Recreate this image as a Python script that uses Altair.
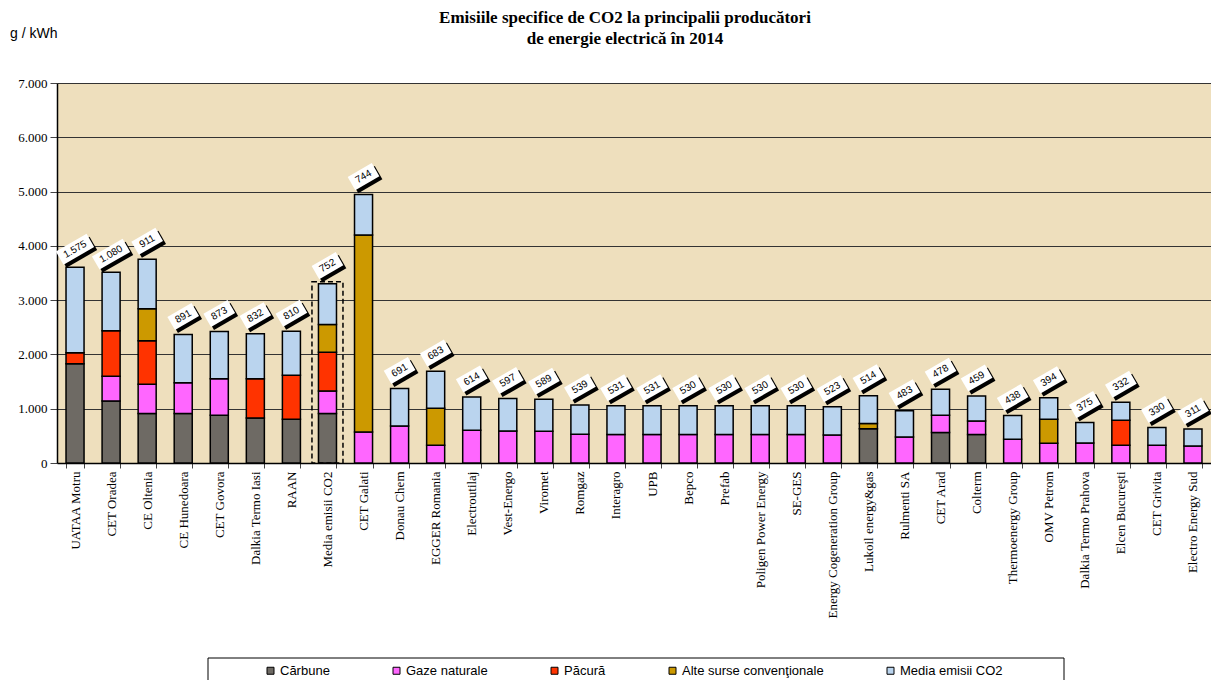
import altair as alt
import pandas as pd

categories = [
    "UATAA Motru", "CET Oradea", "CE Oltenia", "CE Hunedoara", "CET Govora",
    "Dalkia Termo Iasi", "RAAN", "Media emisii CO2", "CET Galati", "Donau Chem",
    "EGGER Romania", "Electroutilaj", "Vest-Energo", "Viromet", "Romgaz",
    "Interagro", "UPB", "Bepco", "Prefab", "Poligen Power Energy", "SE-GES",
    "Energy Cogeneration Group", "Lukoil energy&gas", "Rulmenti SA", "CET Arad",
    "Colterm", "Thermoenergy Group", "OMV Petrom", "Dalkia Termo Prahova",
    "Elcen Bucureşti", "CET Grivita", "Electro Energy Sud",
]
carbune = [1827, 1144, 910, 910, 879, 830, 806, 910, 0, 0, 0, 0, 0, 0, 0, 0,
           0, 0, 0, 0, 0, 0, 633, 0, 560, 523, 0, 0, 0, 0, 0, 0]
gaze = [0, 455, 541, 566, 671, 0, 0, 418, 572, 683, 326, 603, 590, 584, 529, 523,
        523, 523, 523, 523, 523, 515, 0, 480, 319, 252, 437, 363, 369, 326, 326, 314]
pacura = [203, 836, 800, 0, 0, 720, 811, 714, 0, 0, 0, 0, 0, 0, 0, 0,
          0, 0, 0, 0, 0, 0, 0, 0, 0, 0, 0, 0, 0, 461, 0, 0]
alte = [0, 0, 590, 0, 0, 0, 0, 510, 3628, 0, 683, 0, 0, 0, 0, 0,
        0, 0, 0, 0, 0, 0, 93, 0, 0, 0, 0, 443, 0, 0, 0, 0]
media = [1575, 1080, 911, 891, 873, 832, 810, 752, 744, 691, 683, 614, 597, 589, 539, 531,
         531, 530, 530, 530, 530, 523, 514, 483, 478, 459, 438, 394, 375, 332, 330, 311]

sources = ["Cărbune", "Gaze naturale", "Păcură", "Alte surse convenţionale", "Media emisii CO2"]
colors = ["#6E6A64", "#FF66FF", "#FF3300", "#CC9900", "#BAD4EE"]
title_lines = ["Emisiile specifice de CO2 la principalii producători", "de energie electrică în 2014"]
unit_label = "g / kWh"
highlight = "Media emisii CO2"
y_ticks = [0, 1000, 2000, 3000, 4000, 5000, 6000, 7000]

# ---- tables built from the arrays ----
series = [carbune, gaze, pacura, alte, media]
rows = []
for i, c in enumerate(categories):
    for k, (s, arr) in enumerate(zip(sources, series)):
        if arr[i] > 0:
            rows.append({"cat": c, "source": s, "ord": k, "value": arr[i]})
bars_df = pd.DataFrame(rows)

LONG_BOX = "M-2.8,-1.2L2.8,-1.2L2.8,1.2L-2.8,1.2Z"
SHORT_BOX = "M-2.2,-1.2L2.2,-1.2L2.2,1.2L-2.2,1.2Z"
totals = [sum(v) for v in zip(*series)]
lab_df = pd.DataFrame({"cat": categories, "total": totals, "media": media})
lab_df["label"] = [f"{v:,}".replace(",", ".") for v in media]
lab_df["box"] = [LONG_BOX if len(l) > 3 else SHORT_BOX for l in lab_df["label"]]
lab_df["zero"] = 0
hi_df = lab_df[lab_df["cat"] == highlight]

x_scale = alt.Scale(paddingInner=0.5, paddingOuter=0.25)
x_axis = alt.Axis(
    title=None, labelAngle=270, labelFont="Liberation Serif", labelFontSize=13,
    labelColor="black", labelPadding=3, tickSize=5, tickBand="extent",
    tickColor="#444", domainColor="black", domainWidth=1.5, grid=False,
)
y_axis = alt.Axis(
    title=None, values=y_ticks,
    labelExpr="replace(format(datum.value, ',d'), ',', '.')",
    labelFont="Liberation Serif", labelFontSize=13, labelColor="black",
    labelPadding=3, tickSize=7, tickColor="#444", domainColor="black",
    domainWidth=1.5, gridColor="#333", gridWidth=1,
)
y_scale = alt.Scale(domain=[0, 7000])

X = alt.X("cat:N", sort=categories, scale=x_scale, axis=x_axis)

bars = alt.Chart(bars_df).mark_bar(stroke="black", strokeWidth=1.5).encode(
    x=X,
    y=alt.Y("value:Q", stack="zero", scale=y_scale, axis=y_axis),
    color=alt.Color(
        "source:N",
        scale=alt.Scale(domain=sources, range=colors),
        legend=alt.Legend(
            orient="none", legendX=207, legendY=581, direction="horizontal",
            title=None, symbolType="square", symbolSize=49,
            symbolStrokeColor="black", symbolStrokeWidth=1,
            labelFont="Liberation Sans", labelFontSize=13, labelColor="black",
            labelOffset=3, columnPadding=60, padding=0,
        ),
    ),
    order=alt.Order("ord:Q"),
)

dashed = alt.Chart(hi_df).mark_bar(
    width=alt.RelativeBandSize(1.72), fillOpacity=0, stroke="black",
    strokeDash=[5, 3], strokeWidth=1.5, yOffset=-2,
).encode(x=X, y=alt.Y("total:Q", scale=y_scale), y2="zero:Q")

shadow = alt.Chart(lab_df).mark_point(
    filled=True, size=160, angle=330, color="black", opacity=1, xOffset=3, yOffset=-15,
).encode(x=X, y=alt.Y("total:Q", scale=y_scale), shape=alt.Shape("box:N", scale=None, legend=None))

box = alt.Chart(lab_df).mark_point(
    filled=True, size=160, angle=330, color="white", opacity=1, yOffset=-18,
).encode(x=X, y=alt.Y("total:Q", scale=y_scale), shape=alt.Shape("box:N", scale=None, legend=None))

txt = alt.Chart(lab_df).mark_text(
    angle=330, yOffset=-18, font="Liberation Sans", fontSize=10, color="black",
).encode(x=X, y=alt.Y("total:Q", scale=y_scale), text="label:N")

title1 = alt.Chart(pd.DataFrame({"t": [title_lines[0]]})).mark_text(
    font="Liberation Serif", fontWeight="bold", fontSize=17, align="center",
    baseline="middle", color="black",
).encode(text="t:N", x=alt.value(568), y=alt.value(-65))

title2 = alt.Chart(pd.DataFrame({"t": [title_lines[1]]})).mark_text(
    font="Liberation Serif", fontWeight="bold", fontSize=17, align="center",
    baseline="middle", color="black",
).encode(text="t:N", x=alt.value(568), y=alt.value(-44))

unit = alt.Chart(pd.DataFrame({"t": [unit_label]})).mark_text(
    font="Liberation Sans", fontSize=14, align="left", baseline="middle", color="black",
).encode(text="t:N", x=alt.value(-47), y=alt.value(-49))

legend_box = alt.Chart(pd.DataFrame({"a": [0]})).mark_rect(
    fill="white", stroke="black", strokeWidth=1,
).encode(x=alt.value(151), x2=alt.value(1007), y=alt.value(575), y2=alt.value(640))

chart = alt.layer(
    legend_box, bars, dashed, shadow, box, txt, title1, title2, unit
).properties(
    width=1154, height=380,
    autosize=alt.AutoSizeParams(type="none"),
    padding={"left": 49, "top": 75, "right": 0, "bottom": 217},
).configure_view(
    fill="#EEDFBD", strokeWidth=0,
)

chart.save("out.html", embed_options={"renderer": "svg", "actions": False})
